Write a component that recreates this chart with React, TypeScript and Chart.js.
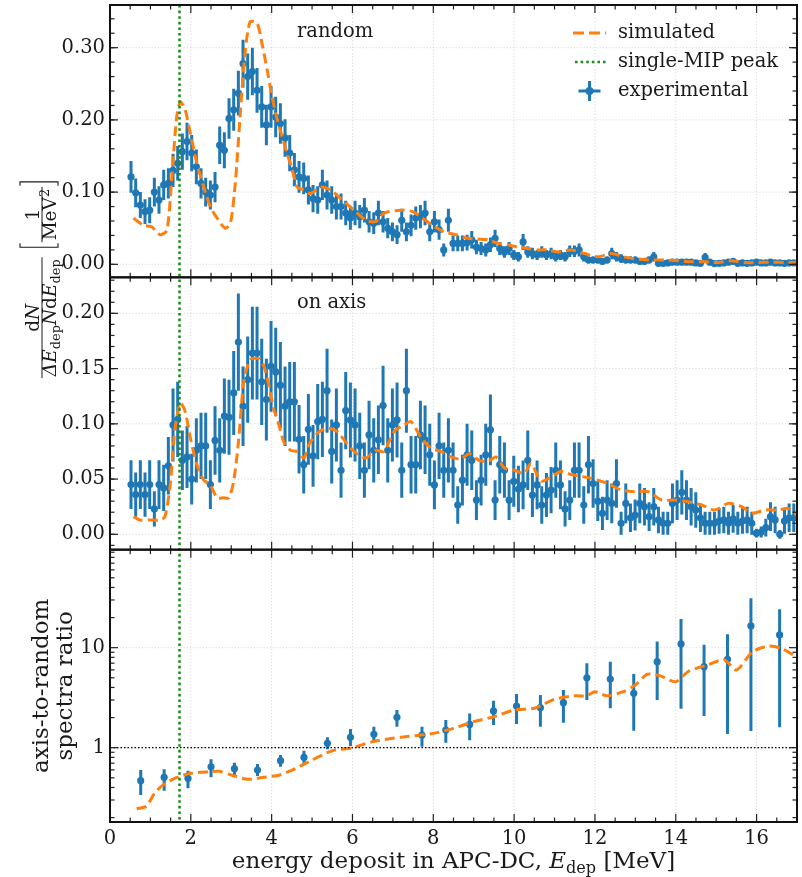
import React, { useEffect, useRef } from "react";
import { Chart, registerables } from "chart.js";
Chart.register(...registerables);

// ---------- data ----------
const E0 = 0.52; // first bin centre (MeV)
const BIN_WIDTH = 0.1155; // bin width (MeV)

const randomExp = [
  0.121, 0.099, 0.082, 0.073, 0.075, 0.1, 0.089, 0.11, 0.112, 0.13,
  0.14, 0.156, 0.17, 0.154, 0.135, 0.112, 0.1, 0.096, 0.107, 0.165,
  0.158, 0.202, 0.214, 0.237, 0.278, 0.26, 0.267, 0.241, 0.218, 0.193,
  0.218, 0.204, 0.195, 0.175, 0.154, 0.131, 0.121, 0.119, 0.103, 0.091,
  0.089, 0.11, 0.096, 0.089, 0.08, 0.08, 0.071,
  0.064, 0.071, 0.066, 0.075, 0.059, 0.057, 0.071, 0.059, 0.05, 0.045,
  0.041, 0.061, 0.045, 0.054, 0.064, 0.066, 0.071, 0.045, 0.059, 0.048,
  0.02, 0.061, 0.029, 0.029, 0.029, 0.03, 0.034, 0.024, 0.022, 0.02,
  0.027, 0.036, 0.022, 0.017, 0.022, 0.013, 0.0105, 0.031, 0.017, 0.015,
  0.013, 0.017, 0.013, 0.015, 0.0105, 0.013, 0.0105, 0.018, 0.018,
  0.02, 0.0105, 0.006, 0.006, 0.006, 0.004, 0.006, 0.015, 0.0105, 0.008,
  0.006, 0.006, 0.006, 0.004, 0.004, 0.006, 0.0105, 0.0014, 0.0014, 0.002,
  0.003, 0.003, 0.003, 0.003, 0.003, 0.002, 0.0014, 0.0095, 0.003, 0.001,
  0.0014, 0.002, 0.003, 0.004, 0.0014, 0.002, 0.0014, 0.002, 0.003, 0.002,
  0.002, 0.003, 0.002, 0.002, 0.0014, 0.002, 0.002,
];
const randomErr = [
  0.022, 0.02, 0.018, 0.017, 0.018, 0.02, 0.019, 0.021, 0.021, 0.023,
  0.024, 0.025, 0.026, 0.025, 0.024, 0.021, 0.02, 0.02, 0.021, 0.026,
  0.025, 0.028, 0.029, 0.031, 0.033, 0.032, 0.033, 0.031, 0.029, 0.028,
  0.029, 0.028, 0.028, 0.026, 0.025, 0.023, 0.022, 0.022, 0.02, 0.019,
  0.019, 0.021, 0.02, 0.019, 0.018, 0.018, 0.017,
  0.016, 0.017, 0.016, 0.017, 0.015, 0.015, 0.017, 0.015, 0.014, 0.013,
  0.013, 0.016, 0.013, 0.015, 0.016, 0.016, 0.017, 0.013, 0.015, 0.014,
  0.009, 0.016, 0.011, 0.011, 0.011, 0.011, 0.012, 0.01, 0.009, 0.009,
  0.01, 0.012, 0.009, 0.008, 0.009, 0.007, 0.0065, 0.011, 0.008, 0.008,
  0.007, 0.008, 0.007, 0.008, 0.0065, 0.007, 0.0065, 0.008, 0.008,
  0.009, 0.0065, 0.005, 0.005, 0.005, 0.004, 0.005, 0.008, 0.0065, 0.006,
  0.005, 0.005, 0.005, 0.004, 0.004, 0.005, 0.0065, 0.003, 0.003, 0.003,
  0.0035, 0.0035, 0.0035, 0.0035, 0.0035, 0.003, 0.003, 0.0062, 0.0035, 0.0025,
  0.003, 0.003, 0.0035, 0.004, 0.003, 0.003, 0.003, 0.003, 0.0035, 0.003,
  0.003, 0.0035, 0.003, 0.003, 0.003, 0.003, 0.003,
];

const axisExp = [
  0.045, 0.036, 0.045, 0.036, 0.045, 0.023, 0.045, 0.042, 0.062, 0.099,
  0.104, 0.067, 0.07, 0.05, 0.076, 0.08, 0.08, 0.045, 0.085, 0.076,
  0.107, 0.106, 0.128, 0.174, 0.116, 0.14, 0.164, 0.164, 0.138, 0.122,
  0.152, 0.147, 0.135, 0.116, 0.12, 0.12, 0.086, 0.063, 0.095, 0.071,
  0.102, 0.104, 0.13, 0.075, 0.099, 0.058, 0.112,
  0.1035, 0.099, 0.08, 0.058, 0.09, 0.076, 0.0855, 0.1165, 0.076, 0.099,
  0.1035, 0.058, 0.13, 0.063, 0.063, 0.09, 0.0855, 0.072, 0.0447, 0.08,
  0.058, 0.076, 0.058, 0.0265, 0.049, 0.072, 0.067, 0.031, 0.049, 0.072,
  0.0945, 0.031, 0.063, 0.058, 0.031, 0.048, 0.041, 0.0447, 0.067, 0.0356,
  0.0447, 0.0265, 0.0356, 0.04, 0.058, 0.0447, 0.023, 0.031, 0.058,
  0.058, 0.0265, 0.063, 0.046, 0.03, 0.019, 0.031, 0.028, 0.046, 0.01,
  0.028, 0.015, 0.0175, 0.028, 0.025, 0.016, 0.025, 0.013, 0.01, 0.01,
  0.028, 0.031, 0.038, 0.031, 0.025, 0.022, 0.015, 0.01, 0.01, 0.01,
  0.012, 0.013, 0.01, 0.014, 0.01, 0.012, 0.013, 0.01, 0.001, 0.002,
  0.006, 0.016, 0.013, 0.0, 0.012, 0.015, 0.015,
];
const axisErr = [
  0.022, 0.02, 0.022, 0.02, 0.022, 0.016, 0.022, 0.021, 0.026, 0.033,
  0.034, 0.027, 0.028, 0.023, 0.029, 0.03, 0.03, 0.022, 0.031, 0.029,
  0.034, 0.034, 0.038, 0.044, 0.036, 0.039, 0.042, 0.042, 0.039, 0.037,
  0.041, 0.04, 0.039, 0.036, 0.036, 0.036, 0.031, 0.026, 0.032, 0.028,
  0.034, 0.034, 0.038, 0.029, 0.033, 0.025, 0.035,
  0.034, 0.033, 0.03, 0.025, 0.031, 0.029, 0.031, 0.036, 0.029, 0.033,
  0.034, 0.025, 0.038, 0.026, 0.026, 0.031, 0.031, 0.028, 0.022, 0.03,
  0.025, 0.029, 0.025, 0.017, 0.023, 0.028, 0.027, 0.018, 0.023, 0.028,
  0.032, 0.018, 0.026, 0.025, 0.018, 0.023, 0.021, 0.022, 0.027, 0.02,
  0.022, 0.017, 0.02, 0.021, 0.025, 0.022, 0.016, 0.018, 0.025,
  0.025, 0.017, 0.026, 0.022, 0.018, 0.015, 0.018, 0.018, 0.022, 0.0105,
  0.018, 0.013, 0.014, 0.018, 0.017, 0.013, 0.017, 0.012, 0.0105, 0.0105,
  0.018, 0.018, 0.02, 0.018, 0.017, 0.016, 0.013, 0.0105, 0.0105, 0.0105,
  0.0115, 0.012, 0.0105, 0.0125, 0.0105, 0.0115, 0.012, 0.0105, 0.004, 0.005,
  0.008, 0.013, 0.012, 0.004, 0.0115, 0.013, 0.013,
];

const randomSimE = [
  0.58, 0.83, 1.03, 1.24, 1.41, 1.53, 1.65, 1.74, 1.86, 1.99,
  2.15, 2.32, 2.48, 2.65, 2.85, 2.98, 3.1, 3.23, 3.35, 3.47,
  3.64, 3.76, 3.89, 4.01, 4.14, 4.26, 4.38, 4.51, 4.63, 4.8,
  4.96, 5.21, 5.46, 5.71, 6.04, 6.33, 6.57, 6.78, 7.2, 7.49,
  7.73, 7.98, 8.27, 8.56, 8.85, 9.1, 9.35, 9.6, 9.84, 10.1,
  10.34, 10.59, 10.84, 11.09, 11.41, 11.74, 12.08, 12.41, 12.74, 13.08,
  13.41, 13.74, 14.07, 14.39, 14.72, 15.05, 15.38, 15.71, 16.04, 16.37,
  16.7, 17.03,
];
const randomSim = [
  0.064, 0.054, 0.052, 0.041, 0.0475, 0.121, 0.204, 0.225, 0.214, 0.181,
  0.14, 0.107, 0.08, 0.064, 0.05, 0.057, 0.112, 0.214, 0.297, 0.336,
  0.334, 0.306, 0.269, 0.232, 0.2, 0.177, 0.154, 0.131, 0.107, 0.103,
  0.098, 0.107, 0.103, 0.091, 0.075, 0.061, 0.059, 0.071, 0.075, 0.073,
  0.064, 0.054, 0.045, 0.041, 0.036, 0.035, 0.034, 0.029, 0.027, 0.024,
  0.022, 0.02, 0.02, 0.017, 0.02, 0.015, 0.0105, 0.015, 0.01, 0.007,
  0.006, 0.006, 0.005, 0.0036, 0.0036, 0.0025, 0.005, 0.0025, 0.0025, 0.003,
  0.0025, 0.003,
];

const axisSimE = [
  0.58, 0.74, 0.99, 1.24, 1.36, 1.49, 1.61, 1.74, 1.86, 1.99,
  2.15, 2.32, 2.48, 2.65, 2.81, 2.94, 3.06, 3.18, 3.31, 3.47,
  3.68, 3.8, 3.93, 4.05, 4.18, 4.3, 4.47, 4.63, 4.8, 4.92,
  5.13, 5.38, 5.62, 5.79, 6.04, 6.33, 6.57, 6.78, 7.03, 7.28,
  7.45, 7.69, 7.94, 8.19, 8.44, 8.68, 8.89, 9.13, 9.35, 9.55,
  9.76, 10.01, 10.25, 10.42, 10.67, 10.92, 11.17, 11.42, 11.91, 12.32,
  12.65, 12.98, 13.32, 13.65, 13.98, 14.31, 14.64, 14.97, 15.3, 15.63,
  15.88, 16.21, 16.54, 16.79, 17.04,
];
const axisSim = [
  0.016, 0.013, 0.013, 0.013, 0.016, 0.0447, 0.096, 0.119, 0.111, 0.087,
  0.063, 0.049, 0.0447, 0.033, 0.033, 0.033, 0.048, 0.084, 0.138, 0.158,
  0.159, 0.153, 0.135, 0.114, 0.099, 0.084, 0.076, 0.075, 0.069, 0.081,
  0.0915, 0.096, 0.093, 0.0855, 0.075, 0.069, 0.076, 0.075, 0.093, 0.099,
  0.102, 0.088, 0.078, 0.075, 0.07, 0.068, 0.073, 0.067, 0.066, 0.07,
  0.06, 0.058, 0.055, 0.064, 0.048, 0.052, 0.057, 0.054, 0.0507, 0.046,
  0.04, 0.0386, 0.0386, 0.031, 0.031, 0.0295, 0.0265, 0.022, 0.028, 0.025,
  0.019, 0.022, 0.022, 0.0235, 0.016,
];

const ratioE = [
  0.76, 1.34, 1.93, 2.5, 3.08, 3.65, 4.22, 4.8, 5.38, 5.95,
  6.53, 7.1, 7.72, 8.31, 8.9, 9.49, 10.06, 10.65, 11.22, 11.8,
  12.38, 12.96, 13.54, 14.13, 14.7, 15.28, 15.86, 16.57,
];
const ratioExp = [
  0.468, 0.506, 0.494, 0.645, 0.617, 0.598, 0.741, 0.8, 1.107, 1.27,
  1.36, 2.01, 1.34, 1.5, 1.71, 2.33, 2.61, 2.51, 2.82, 5.0,
  4.86, 3.5, 7.24, 10.9, 6.46, 7.66, 16.5, 13.4,
];
const ratioLo = [
  0.336, 0.372, 0.393, 0.506, 0.534, 0.52, 0.645, 0.672, 0.964, 1.04,
  1.15, 1.62, 1.02, 1.12, 1.19, 1.69, 1.73, 1.62, 1.78, 3.0,
  2.48, 1.48, 3.0, 2.45, 2.08, 1.37, 1.47, 1.6,
];
const ratioHi = [
  0.598, 0.607, 0.589, 0.765, 0.708, 0.687, 0.845, 0.933, 1.27, 1.54,
  1.62, 2.38, 1.62, 1.89, 2.2, 2.95, 3.44, 3.37, 3.78, 6.97,
  7.24, 5.46, 11.5, 19.3, 10.7, 13.6, 31.2, 24.2,
];
const ratioSimE = [
  0.66, 0.9, 1.1, 1.3, 1.6, 2.0, 2.5, 2.7, 3.0, 3.4,
  3.8, 4.2, 4.6, 5.0, 5.5, 6.0, 6.5, 7.0, 7.4, 8.0,
  8.5, 9.0, 9.5, 10.0, 10.5, 11.0, 11.5, 11.8, 12.0, 12.3,
  12.7, 13.0, 13.3, 13.6, 14.0, 14.3, 14.8, 15.2, 15.5, 15.9,
  16.3, 16.6, 16.9,
];
const ratioSim = [
  0.244, 0.26, 0.35, 0.42, 0.494, 0.555, 0.575, 0.58, 0.534, 0.483,
  0.506, 0.534, 0.622, 0.753, 0.933, 1.0, 1.15, 1.24, 1.3, 1.39,
  1.56, 1.82, 2.04, 2.38, 2.48, 3.05, 3.3, 3.3, 3.63, 3.3,
  3.63, 4.24, 5.43, 5.25, 4.57, 5.75, 6.76, 7.59, 5.98, 9.12,
  10.4, 9.9, 8.5,
];

const MIP_PEAK = 1.72;
const xTickValues = [0, 2, 4, 6, 8, 10, 12, 14, 16];
const topTickValues = [0, 0.1, 0.2, 0.3];
const midTickValues = [0, 0.05, 0.1, 0.15, 0.2];
const botTickValues = [1, 10];
const legendLabels = ["simulated", "single-MIP peak", "experimental"];

// ---------- style ----------
const BLUE = "#1f77b4";
const ORANGE = "#ff7f0e";
const GREEN = "#1e8c1e";
const SERIF = '"DejaVu Serif", serif';
const TEXT = "#1a1a1a";

const binCentres = randomExp.map((_, k) => E0 + BIN_WIDTH * k);
const pts = (xs: number[], ys: number[]) => ys.map((y, i) => ({ x: xs[i], y }));

type Run = { t: string; it?: boolean; sub?: boolean; sup?: boolean };
function runFont(r: Run, size: number) {
  const s = r.sub || r.sup ? size * 0.7 : size;
  return `${r.it ? "italic " : ""}${s}px ${SERIF}`;
}
function runsWidth(ctx: CanvasRenderingContext2D, runs: Run[], size: number) {
  let w = 0;
  for (const r of runs) {
    ctx.font = runFont(r, size);
    w += ctx.measureText(r.t).width;
  }
  return w;
}
function drawRuns(ctx: CanvasRenderingContext2D, runs: Run[], x: number, y: number, size: number) {
  ctx.textAlign = "left";
  ctx.textBaseline = "alphabetic";
  for (const r of runs) {
    ctx.font = runFont(r, size);
    const dy = r.sub ? size * 0.22 : r.sup ? -size * 0.4 : 0;
    ctx.fillText(r.t, x, y + dy);
    x += ctx.measureText(r.t).width;
  }
}

function seg(ctx: CanvasRenderingContext2D, x1: number, y1: number, x2: number, y2: number) {
  ctx.beginPath();
  ctx.moveTo(x1, y1);
  ctx.lineTo(x2, y2);
  ctx.stroke();
}

const panelDefs = [
  { id: "yTop", major: topTickValues, minorStep: 0.02, log: false },
  { id: "yMid", major: midTickValues, minorStep: 0.01, log: false },
  { id: "yBot", major: botTickValues, minorStep: 0, log: true },
];

const errorSpecs = [
  { axis: "yTop", xs: binCentres, lo: randomExp.map((v, i) => v - randomErr[i]), hi: randomExp.map((v, i) => v + randomErr[i]) },
  { axis: "yMid", xs: binCentres, lo: axisExp.map((v, i) => v - axisErr[i]), hi: axisExp.map((v, i) => v + axisErr[i]) },
  { axis: "yBot", xs: ratioE, lo: ratioLo, hi: ratioHi },
];

const decorPlugin = {
  id: "decor",
  beforeDatasetsDraw(chart: any) {
    const ctx: CanvasRenderingContext2D = chart.ctx;
    const xs = chart.scales.x;
    const ca = chart.chartArea;
    ctx.save();
    ctx.strokeStyle = "#cfcfcf";
    ctx.lineWidth = 0.8;
    ctx.setLineDash([1.2, 2]);
    for (const p of panelDefs) {
      const s = chart.scales[p.id];
      for (const v of xTickValues) {
        if (v === 0) continue;
        const px = xs.getPixelForValue(v);
        seg(ctx, px, s.top, px, s.bottom);
      }
      for (const v of p.major) {
        const py = s.getPixelForValue(v);
        seg(ctx, ca.left, py, ca.right, py);
      }
    }
    ctx.restore();

    // error bars
    ctx.save();
    ctx.strokeStyle = BLUE;
    ctx.lineWidth = 3;
    ctx.setLineDash([]);
    for (const e of errorSpecs) {
      const s = chart.scales[e.axis];
      ctx.save();
      ctx.beginPath();
      ctx.rect(ca.left, s.top, ca.right - ca.left, s.bottom - s.top);
      ctx.clip();
      e.xs.forEach((x: number, i: number) => {
        const px = xs.getPixelForValue(x);
        const lo = s.type === "logarithmic" ? Math.max(e.lo[i], 1e-3) : e.lo[i];
        seg(ctx, px, s.getPixelForValue(lo), px, s.getPixelForValue(e.hi[i]));
      });
      ctx.restore();
    }
    ctx.restore();
  },
  afterDatasetsDraw(chart: any) {
    const ctx: CanvasRenderingContext2D = chart.ctx;
    const xs = chart.scales.x;
    const ca = chart.chartArea;
    ctx.save();
    // unity line in ratio panel
    const sb = chart.scales.yBot;
    ctx.strokeStyle = "#000";
    ctx.lineWidth = 1.2;
    ctx.setLineDash([1.5, 2]);
    const py1 = sb.getPixelForValue(1);
    seg(ctx, ca.left, py1, ca.right, py1);
    // single-MIP peak
    ctx.strokeStyle = GREEN;
    ctx.lineWidth = 2.6;
    ctx.setLineDash([2.6, 3]);
    const px = xs.getPixelForValue(MIP_PEAK);
    seg(ctx, px, ca.top, px, ca.bottom);
    ctx.restore();
  },
  afterDraw(chart: any) {
    const ctx: CanvasRenderingContext2D = chart.ctx;
    const xs = chart.scales.x;
    const left = xs.left;
    const right = xs.right;
    ctx.save();
    ctx.setLineDash([]);
    // ticks
    ctx.strokeStyle = "#222";
    ctx.lineWidth = 1.2;
    for (const p of panelDefs) {
      const s = chart.scales[p.id];
      for (let k = 1; k < 34; k++) {
        const v = k * 0.5;
        const len = k % 4 === 0 ? 8 : 4.5;
        const px = xs.getPixelForValue(v);
        seg(ctx, px, s.top, px, s.top + len);
        seg(ctx, px, s.bottom, px, s.bottom - len);
      }
      const minor: number[] = [];
      if (p.log) {
        for (const dec of [0.1, 1, 10]) for (let m = 2; m <= 9; m++) minor.push(m * dec);
      } else {
        for (let k = -5; k <= 40; k++) minor.push(k * p.minorStep);
      }
      for (const v of minor) {
        if (v < s.min || v > s.max) continue;
        const py = s.getPixelForValue(v);
        seg(ctx, left, py, left + 4.5, py);
        seg(ctx, right, py, right - 4.5, py);
      }
      for (const v of p.major) {
        const py = s.getPixelForValue(v);
        seg(ctx, left, py, left + 8, py);
        seg(ctx, right, py, right - 8, py);
      }
    }
    // frames
    ctx.strokeStyle = "#111";
    ctx.lineWidth = 2;
    for (const p of panelDefs) {
      const s = chart.scales[p.id];
      ctx.strokeRect(left, s.top, right - left, s.bottom - s.top);
    }

    ctx.fillStyle = TEXT;
    // panel labels
    ctx.font = `19.5px ${SERIF}`;
    ctx.textAlign = "left";
    ctx.textBaseline = "middle";
    ctx.fillText("random", 297, 32);
    ctx.fillText("on axis", 297, 303);

    // legend
    const lx0 = 573, lx1 = 606, tx = 618;
    const rows = [33, 62, 91];
    ctx.strokeStyle = ORANGE;
    ctx.lineWidth = 3;
    ctx.setLineDash([11, 5]);
    seg(ctx, lx0, rows[0], lx1, rows[0]);
    ctx.strokeStyle = GREEN;
    ctx.lineWidth = 2.6;
    ctx.setLineDash([2.6, 3]);
    seg(ctx, lx0 + 2, rows[1], lx1, rows[1]);
    ctx.setLineDash([]);
    ctx.strokeStyle = BLUE;
    ctx.lineWidth = 3;
    const cx = (lx0 + lx1) / 2;
    seg(ctx, cx, rows[2] - 10, cx, rows[2] + 10);
    seg(ctx, cx - 11, rows[2], cx + 11, rows[2]);
    ctx.fillStyle = BLUE;
    ctx.beginPath();
    ctx.arc(cx, rows[2], 4, 0, Math.PI * 2);
    ctx.fill();
    ctx.fillStyle = TEXT;
    ctx.font = `19.5px ${SERIF}`;
    ctx.textBaseline = "middle";
    legendLabels.forEach((t, i) => ctx.fillText(t, tx, rows[i]));

    // x-axis title
    const xRuns: Run[] = [
      { t: "energy deposit in APC-DC, " },
      { t: "E", it: true },
      { t: "dep", sub: true },
      { t: " [MeV]" },
    ];
    const xSize = 23;
    const xw = runsWidth(ctx, xRuns, xSize);
    drawRuns(ctx, xRuns, (left + right) / 2 - xw / 2, 868, xSize);

    // ratio y-axis title
    const sb = chart.scales.yBot;
    ctx.save();
    ctx.translate(0, (sb.top + sb.bottom) / 2);
    ctx.rotate(-Math.PI / 2);
    ctx.font = `23px ${SERIF}`;
    ctx.textAlign = "center";
    ctx.textBaseline = "alphabetic";
    ctx.fillText("axis-to-random", 0, 48);
    ctx.fillText("spectra ratio", 0, 72);
    ctx.restore();

    // spectra y-axis title (fraction)
    const fs = 18.5;
    const num: Run[] = [{ t: "d" }, { t: "N", it: true }];
    const den: Run[] = [
      { t: "Δ", it: true },
      { t: "E", it: true },
      { t: "dep", sub: true },
      { t: "N", it: true },
      { t: "d" },
      { t: "E", it: true },
      { t: "dep", sub: true },
    ];
    const num2: Run[] = [{ t: "1" }];
    const den2: Run[] = [{ t: "MeV" }, { t: "2", sup: true }];
    const wNum = runsWidth(ctx, num, fs);
    const wDen = runsWidth(ctx, den, fs);
    const wf = Math.max(wNum, wDen) + 4;
    const wNum2 = runsWidth(ctx, num2, fs);
    const wDen2 = runsWidth(ctx, den2, fs);
    const wf2 = Math.max(wNum2, wDen2) + 4;
    const bw = 7;
    const gap = 8;
    const total = wf + gap + bw + wf2 + bw;
    ctx.save();
    ctx.translate(42, 279);
    ctx.rotate(-Math.PI / 2);
    ctx.fillStyle = TEXT;
    ctx.strokeStyle = TEXT;
    ctx.lineWidth = 1;
    let x0 = -total / 2;
    drawRuns(ctx, num, x0 + (wf - wNum) / 2, -3, fs);
    seg(ctx, x0, 0, x0 + wf, 0);
    drawRuns(ctx, den, x0 + (wf - wDen) / 2, 14, fs);
    x0 += wf + gap;
    // brackets
    const bTop = -22, bBot = 16;
    ctx.lineWidth = 1.1;
    ctx.beginPath();
    ctx.moveTo(x0 + bw - 1, bTop);
    ctx.lineTo(x0 + 2, bTop);
    ctx.lineTo(x0 + 2, bBot);
    ctx.lineTo(x0 + bw - 1, bBot);
    ctx.stroke();
    x0 += bw;
    drawRuns(ctx, num2, x0 + (wf2 - wNum2) / 2, -3, fs);
    ctx.lineWidth = 1;
    seg(ctx, x0, 0, x0 + wf2, 0);
    drawRuns(ctx, den2, x0 + (wf2 - wDen2) / 2, 14, fs);
    x0 += wf2;
    ctx.lineWidth = 1.1;
    ctx.beginPath();
    ctx.moveTo(x0 + 1, bTop);
    ctx.lineTo(x0 + bw - 2, bTop);
    ctx.lineTo(x0 + bw - 2, bBot);
    ctx.lineTo(x0 + 1, bBot);
    ctx.stroke();
    ctx.restore();

    ctx.restore();
  },
};

const tickFont = { family: SERIF, size: 19.5 };

function yAxis(weight: number, extra: any) {
  return {
    position: "left",
    stack: "panels",
    stackWeight: 1,
    weight,
    grid: { display: false, drawTicks: false },
    border: { display: false },
    afterFit: (s: any) => {
      s.width = 110;
      s.paddingTop = 0;
      s.paddingBottom = 0;
    },
    ...extra,
  };
}

export default function App() {
  const ref = useRef<HTMLCanvasElement | null>(null);
  useEffect(() => {
    if (!ref.current) return;
    const simStyle = {
      showLine: true,
      borderColor: ORANGE,
      borderWidth: 3,
      borderDash: [10, 5],
      pointRadius: 0,
      tension: 0.25,
      fill: false,
    };
    const expStyle = {
      showLine: false,
      pointRadius: 3.6,
      pointBackgroundColor: BLUE,
      pointBorderWidth: 0,
      backgroundColor: BLUE,
      borderColor: BLUE,
    };
    const chart = new Chart(ref.current, {
      type: "scatter",
      data: {
        datasets: [
          { label: "simulated", data: pts(randomSimE, randomSim), yAxisID: "yTop", ...simStyle },
          { label: "simulated", data: pts(axisSimE, axisSim), yAxisID: "yMid", ...simStyle },
          { label: "simulated", data: pts(ratioSimE, ratioSim), yAxisID: "yBot", ...simStyle },
          { label: "experimental", data: pts(binCentres, randomExp), yAxisID: "yTop", ...expStyle },
          { label: "experimental", data: pts(binCentres, axisExp), yAxisID: "yMid", ...expStyle },
          { label: "experimental", data: pts(ratioE, ratioExp), yAxisID: "yBot", ...expStyle },
        ] as any,
      },
      options: {
        responsive: false,
        animation: false,
        devicePixelRatio: 1,
        events: [],
        layout: { padding: { left: 0, top: 5, right: 5, bottom: 0 } },
        plugins: { legend: { display: false }, tooltip: { enabled: false } },
        scales: {
          x: {
            type: "linear",
            position: "bottom",
            min: 0,
            max: 17,
            grid: { display: false, drawTicks: false },
            border: { display: false },
            ticks: { font: tickFont, color: TEXT, padding: 5, autoSkip: false, maxRotation: 0 },
            afterBuildTicks: (s: any) => {
              s.ticks = xTickValues.map((v) => ({ value: v }));
            },
            afterFit: (s: any) => {
              s.height = 55;
              s.paddingLeft = 0;
              s.paddingRight = 0;
            },
          },
          yBot: yAxis(1, {
            type: "logarithmic",
            min: 0.1807,
            max: 95.5,
            ticks: { font: tickFont, color: TEXT, padding: 5, callback: (v: any) => String(v) },
            afterBuildTicks: (s: any) => {
              s.ticks = botTickValues.map((v) => ({ value: v }));
            },
          }),
          yMid: yAxis(2, {
            type: "linear",
            min: -0.0139,
            max: 0.2326,
            ticks: { font: tickFont, color: TEXT, padding: 5, callback: (v: any) => Number(v).toFixed(2) },
            afterBuildTicks: (s: any) => {
              s.ticks = midTickValues.map((v) => ({ value: v }));
            },
          }),
          yTop: yAxis(3, {
            type: "linear",
            min: -0.018,
            max: 0.3591,
            ticks: { font: tickFont, color: TEXT, padding: 5, callback: (v: any) => Number(v).toFixed(2) },
            afterBuildTicks: (s: any) => {
              s.ticks = topTickValues.map((v) => ({ value: v }));
            },
          }),
        } as any,
      },
      plugins: [decorPlugin],
    } as any);
    return () => chart.destroy();
  }, []);
  return (
    <div style={{ position: "fixed", left: 0, top: 0, width: 802, height: 877, background: "#fff" }}>
      <canvas ref={ref} width={802} height={877} style={{ display: "block", width: 802, height: 877 }} />
    </div>
  );
}
